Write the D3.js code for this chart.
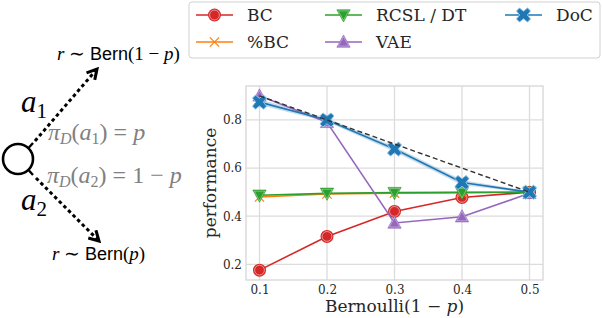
<!DOCTYPE html>
<html>
<head>
<meta charset="utf-8">
<script src="https://cdn.jsdelivr.net/npm/d3@7"></script>
<style>
  body { margin: 0; background: #fff; }
  svg { display: block; }
  .serif { font-family: "DejaVu Serif", serif; }
</style>
</head>
<body>
<svg id="chart"></svg>
<script>
const svgWidth = 602, svgHeight = 318;
const plot = {left: 246, right: 543, top: 86, bottom: 280};

// data
const xs = [0.1, 0.2, 0.3, 0.4, 0.5];
const bc = [0.176, 0.316, 0.42, 0.478, 0.5];
const pctBc = [0.48, 0.492, 0.496, 0.498, 0.5];
const rcsl = [0.487, 0.495, 0.498, 0.499, 0.5];
const vae = [0.9, 0.79, 0.372, 0.398, 0.495];
const doc = [0.874, 0.80, 0.679, 0.54, 0.5];
const docLo = [0.862, 0.792, 0.668, 0.53, 0.496];
const docHi = [0.886, 0.808, 0.69, 0.55, 0.504];
const optimal = [0.9, 0.8, 0.7, 0.6, 0.5];
const xTicks = [0.1, 0.2, 0.3, 0.4, 0.5];
const yTicks = [0.2, 0.4, 0.6, 0.8];

const chart = d3.select('#chart')
    .attr("width", svgWidth)
    .attr("height", svgHeight);

const xScale = d3.scaleLinear().domain([0.08, 0.52]).range([plot.left, plot.right]);
const yScale = d3.scaleLinear().domain([0.135, 0.941]).range([plot.bottom, plot.top]);

// grid
const grid = chart.append("g");
grid.selectAll(".gx").data(xTicks).enter().append("line")
    .attr("x1", d => xScale(d)).attr("x2", d => xScale(d))
    .attr("y1", plot.top).attr("y2", plot.bottom)
    .attr("stroke", "#dcdcdc").attr("stroke-width", 1.3);
grid.selectAll(".gy").data(yTicks).enter().append("line")
    .attr("y1", d => yScale(d)).attr("y2", d => yScale(d))
    .attr("x1", plot.left).attr("x2", plot.right)
    .attr("stroke", "#dcdcdc").attr("stroke-width", 1.3);

chart.append("rect")
    .attr("x", plot.left).attr("y", plot.top)
    .attr("width", plot.right - plot.left).attr("height", plot.bottom - plot.top)
    .attr("fill", "none").attr("stroke", "#d6d6d6").attr("stroke-width", 1.3);

// axes (tick labels only, seaborn style)
const xAxis = d3.axisBottom(xScale).tickValues(xTicks).tickSize(0).tickPadding(5).tickFormat(d3.format(".1f"));
const yAxis = d3.axisLeft(yScale).tickValues(yTicks).tickSize(0).tickPadding(4).tickFormat(d3.format(".1f"));
chart.append("g").attr("transform", "translate(0," + plot.bottom + ")").call(xAxis)
    .attr("font-family", "DejaVu Serif").attr("font-size", 12)
    .call(g => g.select(".domain").remove())
    .selectAll("text").attr("fill", "#262626");
chart.append("g").attr("transform", "translate(" + plot.left + ",0)").call(yAxis)
    .attr("font-family", "DejaVu Serif").attr("font-size", 12)
    .call(g => g.select(".domain").remove())
    .selectAll("text").attr("fill", "#262626");

chart.append("text").attr("class", "serif")
    .attr("x", (plot.left + plot.right) / 2).attr("y", 312)
    .attr("text-anchor", "middle").style("font-size", "17px").attr("fill", "#262626")
    .html('Bernoulli(1 − <tspan font-style="italic">p</tspan>)');
chart.append("text").attr("class", "serif")
    .attr("transform", "translate(216," + ((plot.top + plot.bottom) / 2) + ") rotate(-90)")
    .attr("text-anchor", "middle").style("font-size", "17px").attr("fill", "#262626")
    .text("performance");

const line = d3.line().x((d, i) => xScale(xs[i])).y(d => yScale(d));

// markers
function marker(g, type, color, size) {
  if (type === "circle") {
    g.append("circle").attr("r", size).attr("fill", color);
    g.append("circle").attr("r", size - 1.6).attr("fill", "none").attr("stroke", "#fff").attr("stroke-width", 0.7).attr("stroke-opacity", 0.7);
  } else if (type === "x") {
    g.append("path").attr("d", d3.symbol(d3.symbolX, size * size * 1.6)())
      .attr("stroke", color).attr("stroke-width", 1.2).attr("fill", "none");
  } else if (type === "tridown" || type === "triup") {
    const s = size;
    const p = type === "triup" ? [[0, -s], [s * 0.95, s * 0.75], [-s * 0.95, s * 0.75]] : [[0, s], [s * 0.95, -s * 0.75], [-s * 0.95, -s * 0.75]];
    g.append("path").attr("d", "M" + p.join("L") + "Z").attr("fill", color).attr("stroke", color).attr("stroke-width", 1).attr("stroke-opacity", 0.6);
    g.append("path").attr("d", "M" + p.map(q => [q[0] * 0.78, q[1] * 0.78]).join("L") + "Z").attr("fill", "none").attr("stroke", "#fff").attr("stroke-width", 0.6).attr("stroke-opacity", 0.6);
  } else if (type === "X") {
    const a = size, b = size * 0.42;
    const pts = [[-a + b, -a], [0, -b * 1.3], [a - b, -a], [a, -a + b], [b * 1.3, 0], [a, a - b], [a - b, a], [0, b * 1.3], [-a + b, a], [-a, a - b], [-b * 1.3, 0], [-a, -a + b]];
    g.append("path").attr("d", "M" + pts.join("L") + "Z").attr("fill", color).attr("stroke", "#8fc1e8").attr("stroke-width", 1);
  }
}

const series = [
  {name: "BC", values: bc, color: "#d62728", type: "circle", size: 6.5},
  {name: "%BC", values: pctBc, color: "#ff7f0e", type: "x", size: 6},
  {name: "RCSL / DT", values: rcsl, color: "#2ca02c", type: "tridown", size: 7},
  {name: "VAE", values: vae, color: "#9467bd", type: "triup", size: 7},
  {name: "DoC", values: doc, color: "#1f77b4", type: "X", size: 7}
];

// DoC band
chart.append("path")
    .datum(xs.map((x, i) => ({x: x, lo: docLo[i], hi: docHi[i]})))
    .attr("d", d3.area().x(d => xScale(d.x)).y0(d => yScale(d.lo)).y1(d => yScale(d.hi)))
    .attr("fill", "#1f77b4").attr("fill-opacity", 0.25);

series.forEach(s => {
  chart.append("path").datum(s.values).attr("d", line)
      .attr("fill", "none").attr("stroke", s.color).attr("stroke-width", 1.6);
  s.values.forEach((v, i) => {
    const g = chart.append("g").attr("transform", "translate(" + xScale(xs[i]) + "," + yScale(v) + ")");
    marker(g, s.type, s.color, s.size);
  });
});

chart.append("path").datum(optimal).attr("d", line)
    .attr("fill", "none").attr("stroke", "#333").attr("stroke-width", 1.4).attr("stroke-dasharray", "5,3");

// legend
const legend = chart.append("g");
legend.append("rect").attr("x", 189).attr("y", 2).attr("width", 411).attr("height", 56).attr("rx", 3)
    .attr("fill", "#fff").attr("fill-opacity", 0.85).attr("stroke", "#d0d0d0").attr("stroke-width", 1);
const legPos = [[196, 15], [196, 42], [325, 15], [325, 42], [505, 15]];
series.forEach((s, i) => {
  const [lx, ly] = legPos[i];
  legend.append("line").attr("x1", lx).attr("x2", lx + 37).attr("y1", ly).attr("y2", ly)
      .attr("stroke", s.color).attr("stroke-width", 1.6);
  marker(legend.append("g").attr("transform", "translate(" + (lx + 18.5) + "," + ly + ")"), s.type, s.color, s.size);
  legend.append("text").attr("class", "serif").attr("x", lx + 51).attr("y", ly + 6)
      .style("font-size", "17px").attr("fill", "#262626").text(s.name);
});

// left diagram
const diag = chart.append("g");
chart.append("defs").html(
  '<marker id="ah" viewBox="0 0 12 12" refX="10" refY="6" markerWidth="13" markerHeight="13" markerUnits="userSpaceOnUse" orient="auto">' +
  '<path d="M1,1 L10,6 L1,11" fill="none" stroke="#000" stroke-width="2.8"/></marker>');
diag.append("circle").attr("cx", 18).attr("cy", 159).attr("r", 15)
    .attr("fill", "none").attr("stroke", "#000").attr("stroke-width", 2.6);
diag.append("line").attr("x1", 28.5).attr("y1", 148).attr("x2", 33).attr("y2", 143).attr("stroke", "#000").attr("stroke-width", 2.4);
diag.append("line").attr("x1", 28.5).attr("y1", 170).attr("x2", 33).attr("y2", 175).attr("stroke", "#000").attr("stroke-width", 2.4);
diag.append("line").attr("x1", 35).attr("y1", 141).attr("x2", 97).attr("y2", 69)
    .attr("stroke", "#000").attr("stroke-width", 3).attr("stroke-dasharray", "3.5,3").attr("marker-end", "url(#ah)");
diag.append("line").attr("x1", 36).attr("y1", 178).attr("x2", 99).attr("y2", 241)
    .attr("stroke", "#000").attr("stroke-width", 3).attr("stroke-dasharray", "3.5,3").attr("marker-end", "url(#ah)");

const mathFont = "Liberation Serif";
function bernText(x, y, inner) {
  diag.append("text").attr("x", x).attr("y", y).attr("font-family", mathFont).style("font-size", "19px")
      .html('<tspan font-style="italic">r</tspan>' +
            '<tspan> ∼ </tspan>' +
            '<tspan font-family="Liberation Sans" font-size="18px">Bern</tspan>' +
            '<tspan>(' + inner + ')</tspan>');
}
bernText(57, 60, '1 − <tspan font-style="italic">p</tspan>');
bernText(52, 260, '<tspan font-style="italic">p</tspan>');

function aLabel(x, y, sub) {
  diag.append("text").attr("x", x).attr("y", y).attr("font-family", mathFont).style("font-size", "31px")
      .html('<tspan font-style="italic">a</tspan><tspan dy="6" font-size="21px">' + sub + '</tspan>');
}
aLabel(21, 112, "1");
aLabel(21, 210, "2");

function piLabel(x, y, sub, rhs) {
  diag.append("text").attr("x", x).attr("y", y).attr("font-family", mathFont).style("font-size", "24px").attr("fill", "#808080")
      .html('<tspan font-style="italic">π</tspan><tspan dy="4" font-size="16px" font-style="italic">D</tspan>' +
            '<tspan dy="-4">(</tspan><tspan font-style="italic">a</tspan><tspan dy="4" font-size="16px">' + sub + '</tspan>' +
            '<tspan dy="-4">) = </tspan>' + rhs);
}
piLabel(48, 140, "1", '<tspan font-style="italic">p</tspan>');
piLabel(47, 183, "2", '1 − <tspan font-style="italic">p</tspan>');
</script>
</body>
</html>
